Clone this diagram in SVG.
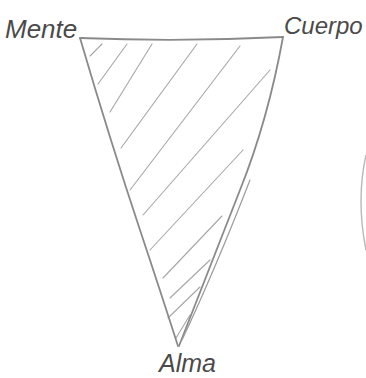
<svg xmlns="http://www.w3.org/2000/svg" width="366" height="378" viewBox="0 0 366 378">
  <style>
    .edge { fill: none; stroke: #8a8a8a; stroke-width: 1.8; stroke-linecap: round; stroke-linejoin: round; }
    .hatch { fill: none; stroke: #a6a6a6; stroke-width: 1.1; stroke-linecap: round; }
    .label { font-family: "Liberation Sans", "DejaVu Sans", sans-serif; font-style: italic; fill: #4a4a4a; }
  </style>
  <rect width="366" height="378" fill="#ffffff"/>
  <g id="hatching">
    <line class="hatch" x1="90" y1="56" x2="102" y2="44"/>
    <line class="hatch" x1="127" y1="44" x2="98" y2="84"/>
    <line class="hatch" x1="152" y1="44" x2="110" y2="112"/>
    <line class="hatch" x1="197" y1="44" x2="121" y2="148"/>
    <line class="hatch" x1="240" y1="46" x2="130" y2="190"/>
    <line class="hatch" x1="270" y1="70" x2="143" y2="215"/>
    <line class="hatch" x1="243" y1="150" x2="150" y2="250"/>
    <line class="hatch" x1="222" y1="216" x2="163" y2="278"/>
    <line class="hatch" x1="210" y1="260" x2="170" y2="298"/>
    <line class="hatch" x1="200" y1="287" x2="168" y2="318"/>
    <line class="hatch" x1="190" y1="315" x2="176" y2="338"/>
  </g>
  <g id="triangle">
    <path class="edge" d="M80 38 Q180 42 283 37"/>
    <path class="edge" d="M80 38 Q110 140 140 230 Q160 290 178 346"/>
    <path class="edge" d="M283 37 Q268 120 240 190 Q205 280 179 346"/>
    <path class="edge" d="M250 180 Q215 270 182 340" style="stroke-width:1.2;stroke:#9a9a9a"/>
  </g>
  <g id="label-mente">
    <text class="label" x="5" y="38" font-size="26">Mente</text>
  </g>
  <g id="label-cuerpo">
    <text class="label" x="284" y="34" font-size="24">Cuerpo</text>
  </g>
  <g id="label-alma">
    <text class="label" x="159" y="372" font-size="25">Alma</text>
  </g>
  <g id="edge-arc">
    <path d="M366 155 Q356 200 366 250" fill="none" stroke="#b8b8b8" stroke-width="1.4"/>
  </g>
</svg>
